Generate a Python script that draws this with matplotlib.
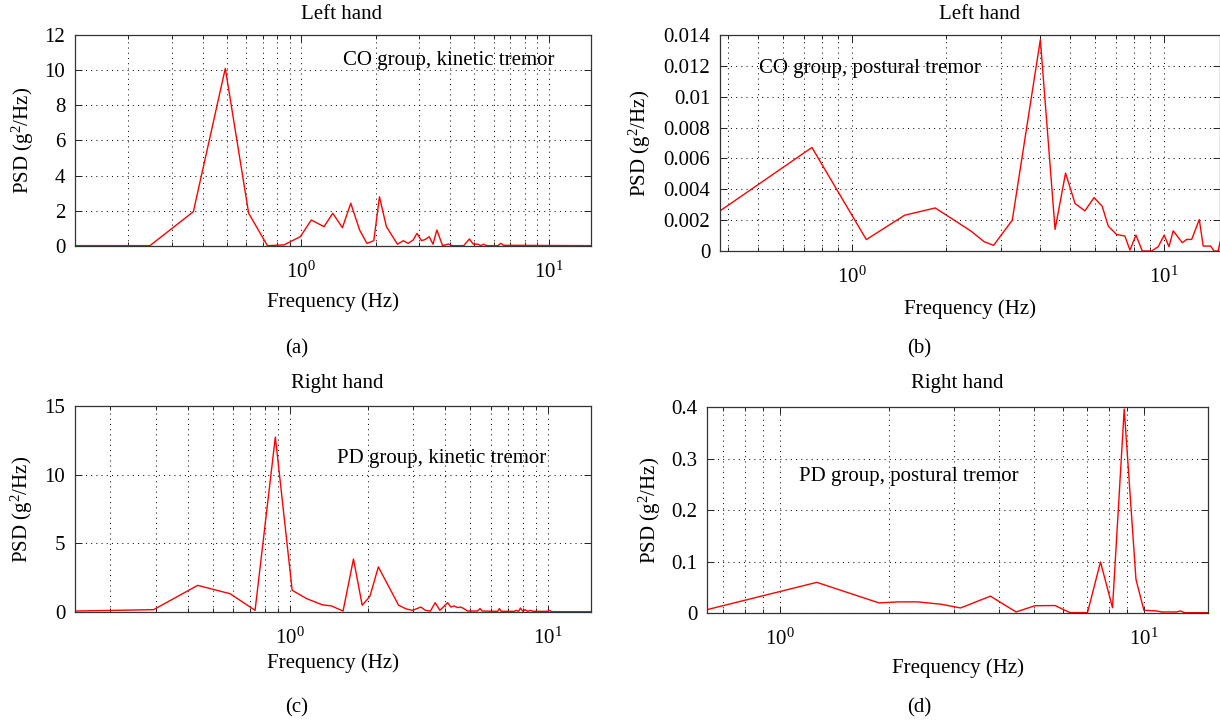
import numpy as np
import matplotlib
matplotlib.use('Agg')
import matplotlib.pyplot as plt
from matplotlib.ticker import LogLocator, NullFormatter, FuncFormatter

# Fuentes tipo Times para imitar la figura original
plt.rcParams['font.family'] = 'Liberation Serif'
plt.rcParams['mathtext.fontset'] = 'custom'
plt.rcParams['mathtext.rm'] = 'Liberation Serif'
plt.rcParams['mathtext.it'] = 'Liberation Serif:italic'

# (a) CO group, kinetic tremor - left hand
freq_a = [0.122, 0.245, 0.367, 0.494, 0.614, 0.731, 0.852, 0.993, 1.10, 1.238, 1.343,
          1.469, 1.588, 1.724, 1.845, 1.967, 2.074, 2.212, 2.452, 2.587, 2.709, 2.838,
          2.94, 3.068, 3.18, 3.295, 3.414, 3.537, 3.732, 3.94, 4.08, 4.54, 4.79, 4.96,
          5.195, 5.326, 5.46, 5.62, 6.25, 6.41, 6.59, 14.85]
psd_a = [0.02, 0.02, 1.95, 10.1, 1.86, 0.02, 0.06, 0.53, 1.48, 1.1, 1.86,
         1.04, 2.43, 0.91, 0.15, 0.3, 2.8, 1.1, 0.1, 0.3, 0.15, 0.34,
         0.72, 0.3, 0.38, 0.53, 0.1, 0.91, 0.02, 0.11, 0.02, 0.02, 0.4, 0.11,
         0.1, 0.02, 0.1, 0.02, 0.02, 0.15, 0.04, 0.02]

# (b) CO group, postural tremor - left hand
freq_b = [0.377, 0.743, 1.11, 1.473, 1.846, 2.4, 2.65, 2.84, 3.26, 4.01, 4.47, 4.83,
          5.18, 5.57, 5.96, 6.33, 6.62, 7.04, 7.48, 7.77, 8.12, 8.51, 9.12, 9.57, 10.0,
          10.36, 10.69, 11.43, 11.81, 12.25, 12.96, 13.34, 14.09, 14.45, 14.9, 15.1]
psd_b = [0.0026, 0.00671, 0.00074, 0.00232, 0.00279, 0.0013, 0.0006, 0.00037, 0.002,
         0.0137, 0.0014, 0.00505, 0.00308, 0.0026, 0.00346, 0.0029, 0.00161, 0.00107,
         0.00097, 0.00006, 0.00103, 0.0, 0.0, 0.00028, 0.00103, 0.00028, 0.00131,
         0.00054, 0.00075, 0.00075, 0.00204, 0.00032, 0.00032, 0.0, 0.0, 0.00058]

# (c) PD group, kinetic tremor - right hand
freq_c = [0.146, 0.2947, 0.437, 0.584, 0.73, 0.875, 1.017, 1.158, 1.328, 1.446, 1.603,
          1.759, 1.902, 2.037, 2.197, 2.634, 2.82, 2.98, 3.21, 3.35, 3.5, 3.65, 3.81,
          4.08, 4.2, 4.32, 4.46, 4.59, 4.71, 4.88, 5.33, 5.45, 5.55, 6.38, 6.48, 6.58,
          7.41, 7.52, 7.7, 7.82, 7.99, 8.15, 8.35, 8.55, 8.75, 10.0, 10.15, 10.3, 14.7]
psd_c = [0.07, 0.17, 1.94, 1.33, 0.12, 12.74, 1.58, 0.97, 0.53, 0.44, 0.07,
         3.86, 0.49, 1.14, 3.28, 0.49, 0.22, 0.12, 0.36, 0.12, 0.07, 0.68, 0.12,
         0.68, 0.36, 0.44, 0.32, 0.36, 0.25, 0.07, 0.07, 0.25, 0.07, 0.05, 0.25, 0.05,
         0.05, 0.12, 0.05, 0.29, 0.05, 0.17, 0.05, 0.12, 0.05, 0.05, 0.12, 0.02, 0.02]

# (d) PD group, postural tremor - right hand
freq_d = [0.631, 1.263, 1.872, 2.116, 2.392, 2.773, 3.135, 3.788, 4.456, 5.02, 5.70,
          6.26, 7.0, 7.6, 8.2, 8.83, 9.51, 10.0, 10.83, 11.19, 12.3, 12.6, 12.96, 15.0]
psd_d = [0.0065, 0.0595, 0.0196, 0.0216, 0.0216, 0.017, 0.0098, 0.0327, 0.002, 0.0141,
         0.0145, 0.0008, 0.0008, 0.0992, 0.0102, 0.396, 0.0655, 0.0053, 0.004, 0.002,
         0.002, 0.004, 0.0005, 0.0007]

yticks_a = [0, 2, 4, 6, 8, 10, 12]
yticks_b = [0, 0.002, 0.004, 0.006, 0.008, 0.01, 0.012, 0.014]
yticks_c = [0, 5, 10, 15]
yticks_d = [0, 0.1, 0.2, 0.3, 0.4]

fig = plt.figure(figsize=(12.2, 7.24), dpi=100)


def panel(rect, f, p, xlim, yticks, title, title_xy, note, note_xy, xlab_y, ylab_x):
    ax = fig.add_axes(rect)
    ax.plot(f, p, color='#ff0000', lw=1.0)
    ax.set_xscale('log')
    ax.set_xlim(xlim)
    ax.set_ylim(yticks[0], yticks[-1])
    ax.set_yticks(yticks)
    ax.yaxis.set_major_formatter(FuncFormatter(lambda v, pos: '%g' % v))
    ax.xaxis.set_major_locator(LogLocator(base=10))
    ax.xaxis.set_minor_locator(LogLocator(base=10, subs=range(2, 10)))
    ax.xaxis.set_minor_formatter(NullFormatter())
    ax.xaxis.set_major_formatter(
        FuncFormatter(lambda v, pos: r'$10^{%d}$' % int(round(np.log10(v)))))
    # rejilla punteada estilo MATLAB
    ax.grid(True, which='major', axis='both', ls=(0, (1, 4)), color='#111111', lw=0.75)
    ax.grid(True, which='minor', axis='x', ls=(0, (1, 4)), color='#111111', lw=0.75)
    ax.tick_params(which='both', direction='in', top=True, right=True,
                   labelsize=15, width=0.7, colors='#222222', labelcolor='black')
    ax.tick_params(which='major', length=5)
    ax.tick_params(which='minor', length=3)
    ax.tick_params(axis='y', pad=7)
    ax.tick_params(axis='x', pad=11)
    for s in ax.spines.values():
        s.set_color('#333333')
        s.set_linewidth(0.9)
    ax.set_xlabel('Frequency (Hz)', fontsize=15, va='center')
    ax.xaxis.set_label_coords(0.5, xlab_y)
    ax.set_ylabel('PSD (g$^2$/Hz)', fontsize=15, va='center')
    ax.yaxis.set_label_coords(ylab_x, 0.5)
    ax.text(title_xy[0], title_xy[1], title, transform=ax.transAxes,
            ha='center', va='center', fontsize=15)
    ax.text(note_xy[0], note_xy[1], note, transform=ax.transAxes,
            ha='left', va='center', fontsize=15)
    return ax


panel([0.06148, 0.66022, 0.42295, 0.29144], freq_a, psd_a, (0.122, 14.85), yticks_a,
      'Left hand', (0.517, 1.095), 'CO group, kinetic tremor', (0.5185, 0.8815),
      -0.264, -0.101)
panel([0.59016, 0.65331, 0.40984, 0.29834], freq_b, psd_b, (0.377, 15.1), yticks_b,
      'Left hand', (0.52, 1.093), 'CO group, postural tremor', (0.078, 0.843),
      -0.2685, -0.1595)
panel([0.06148, 0.15470, 0.42295, 0.28453], freq_c, psd_c, (0.146, 14.7), yticks_c,
      'Right hand', (0.508, 1.110), 'PD group, kinetic tremor', (0.508, 0.746),
      -0.249, -0.1024)
panel([0.57951, 0.15331, 0.41066, 0.28453], freq_d, psd_d, (0.631, 15.0), yticks_d,
      'Right hand', (0.50, 1.115), 'PD group, postural tremor', (0.184, 0.665),
      -0.267, -0.1133)

fig.text(0.2434, 0.518, '(a)', ha='center', va='center', fontsize=15)
fig.text(0.7533, 0.518, '(b)', ha='center', va='center', fontsize=15)
fig.text(0.2434, 0.0225, '(c)', ha='center', va='center', fontsize=15)
fig.text(0.7533, 0.0225, '(d)', ha='center', va='center', fontsize=15)

fig.savefig('out.png', dpi=100)
